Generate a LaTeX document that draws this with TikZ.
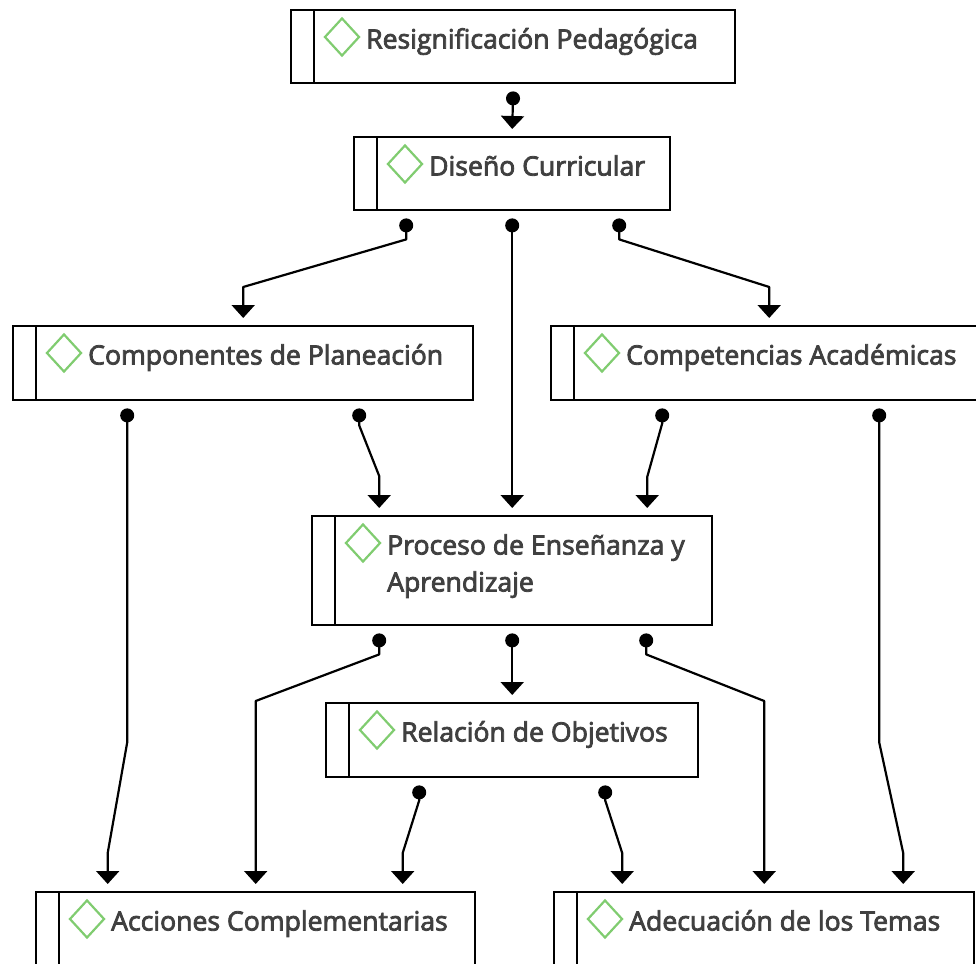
\documentclass[tikz,border=0pt]{standalone}
\usepackage{fontspec}
\newfontfamily\boxfont{Open Sans}[FakeBold=3]
\usepackage{tikz}
\usetikzlibrary{arrows.meta,shapes.geometric,positioning,calc}
\definecolor{gemgreen}{RGB}{128,204,112}
\definecolor{txtgray}{RGB}{64,64,64}

\begin{document}
\begin{tikzpicture}[x=1pt,y=-1pt,
    ebox/.style={draw,line width=2.4pt,anchor=north west,inner sep=0pt,
      path picture={\draw[line width=2.4pt]
        ([xshift=23pt]path picture bounding box.north west) --
        ([xshift=23pt]path picture bounding box.south west);}},
    gem/.style={diamond,draw=gemgreen,line width=2.2pt,inner sep=0pt,
      minimum width=35pt,minimum height=38pt},
    txt/.style={anchor=base west,inner sep=0pt,text=txtgray,
      font=\boxfont\fontsize{26.6}{37}\selectfont},
    link/.style={line width=2.2pt,line join=round,
      {Circle[length=14pt]}-{Triangle[width=23pt,length=13pt]}}]
  \useasboundingbox (0,0) rectangle (976,963);
  \foreach \n/\x/\y/\w/\h/\t in {
      res/290/9/444/73/{Resignificación Pedagógica},
      dis/353/136/316/73/{Diseño Curricular},
      comp/12/325/460/74/{Componentes de Planeación},
      compt/550/325/436/74/{Competencias Académicas},
      proc/311/515/400/109/{\begin{tabular}[t]{@{}l@{}}Proceso de Enseñanza y\\Aprendizaje\end{tabular}},
      rel/325/702/372/74/{Relación de Objetivos},
      acc/35/891/439/74/{Acciones Complementarias},
      adec/553/891/420/74/{Adecuación de los Temas}} {
    \node[ebox,minimum width=\w pt,minimum height=\h pt] (\n) at (\x,\y) {};
    \node[gem] (\n-g) at ([shift={(52,28)}]\n.north west) {};
    \node[txt] (\n-t) at ([shift={(76,39.5)}]\n.north west) {\t};
  }
  \draw[link] ([shift={(0,7)}]res.south) -- ([shift={(0,-7)}]dis.north);
  \draw[link] ([shift={(-106,7)}]dis.south) -- ++(0,21)
    -- ([shift={(0,-38)}]comp.north) -- ([shift={(0,-7)}]comp.north);
  \draw[link] ([shift={(0,7)}]dis.south) -- ([shift={(0,-7)}]proc.north);
  \draw[link] ([shift={(107,7)}]dis.south) -- ++(0,21)
    -- ([shift={(0,-38)}]compt.north) -- ([shift={(0,-7)}]compt.north);
  \draw[link] ([shift={(-116,7)}]comp.south) -- ++(0,334)
    -- ([shift={(-148,-38)}]acc.north) -- ([shift={(-148,-7)}]acc.north);
  \draw[link] ([shift={(116,7)}]comp.south) -- ++(0,17)
    -- ([shift={(-133,-39)}]proc.north) -- ([shift={(-133,-7)}]proc.north);
  \draw[link] ([shift={(-107,7)}]compt.south) -- ++(0,15)
    -- ([shift={(135,-38)}]proc.north) -- ([shift={(135,-7)}]proc.north);
  \draw[link] ([shift={(110,7)}]compt.south) -- ++(0,334)
    -- ([shift={(139,-38)}]adec.north) -- ([shift={(139,-7)}]adec.north);
  \draw[link] ([shift={(-133,7)}]proc.south) -- ++(0,21)
    -- ([shift={(0,-190)}]acc.north) -- ([shift={(0,-7)}]acc.north);
  \draw[link] ([shift={(0,7)}]proc.south) -- ([shift={(0,-7)}]rel.north);
  \draw[link] ([shift={(134,7)}]proc.south) -- ++(0,21)
    -- ([shift={(0,-190)}]adec.north) -- ([shift={(0,-7)}]adec.north);
  \draw[link] ([shift={(-93,7)}]rel.south) -- ++(0,15)
    -- ([shift={(147,-38)}]acc.north) -- ([shift={(147,-7)}]acc.north);
  \draw[link] ([shift={(93,7)}]rel.south) -- ++(0,15)
    -- ([shift={(-142,-38)}]adec.north) -- ([shift={(-142,-7)}]adec.north);
\end{tikzpicture}
\end{document}
